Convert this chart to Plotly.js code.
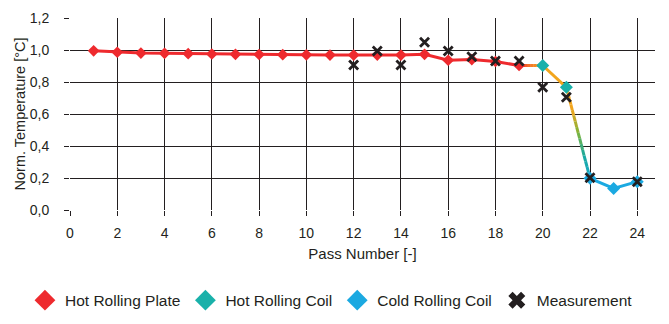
<!DOCTYPE html>
<html>
<head>
<meta charset="utf-8">
<script src="https://cdn.plot.ly/plotly-3.0.1.min.js"></script>
<style>html,body{margin:0;padding:0;background:#fff;}#chart{width:669px;height:324px;}</style>
</head>
<body>
<div id="chart"></div>
<script>
// ---- data ----
var platePasses = [1,2,3,4,5,6,7,8,9,10,11,12,13,14,15,16,17,18,19];
var plateTemp   = [0.995,0.986,0.981,0.979,0.977,0.975,0.973,0.972,0.971,0.970,0.968,0.968,0.968,0.968,0.973,0.936,0.940,0.928,0.903];
var hotCoilPasses = [20,21];
var hotCoilTemp   = [0.903,0.767];
var coldCoilPasses = [22,23,24];
var coldCoilTemp   = [0.198,0.135,0.177];
var measPasses = [12,13,14,15,16,17,18,19,20,21,22,24];
var measTemp   = [0.906,0.994,0.906,1.048,0.994,0.958,0.931,0.931,0.767,0.704,0.202,0.177];
var xTicks = [0,2,4,6,8,10,12,14,16,18,20,22,24];
var yTicks = [0,0.2,0.4,0.6,0.8,1.0,1.2];

var RED = '#ee2a2e', TEAL = '#19b1aa', BLUE = '#1ba9e1', ORANGE = '#f2a51d', INK = '#231f20';
var FONT = '"Liberation Sans", Arial, sans-serif';

function hex2rgb(h){return [parseInt(h.substr(1,2),16),parseInt(h.substr(3,2),16),parseInt(h.substr(5,2),16)];}
function mix(stops, t){
  var n = stops.length-1, k = Math.min(n-1, Math.floor(t*n)), f = t*n-k;
  var a = hex2rgb(stops[k]), b = hex2rgb(stops[k+1]);
  return 'rgb('+a.map(function(v,i){return Math.round(v+(b[i]-v)*f);}).join(',')+')';
}
var traces = [];
function lineTrace(xs, ys, color){
  traces.push({x:xs,y:ys,mode:'lines',line:{color:color,width:3},showlegend:false,hoverinfo:'skip'});
}
// colour-graded connector between two data points (drawing only)
function gradSeg(x0,y0,x1,y1,stops,n){
  for(var i=0;i<n;i++){
    var a=i/n,b=(i+1)/n;
    lineTrace([x0+(x1-x0)*a, x0+(x1-x0)*b],[y0+(y1-y0)*a, y0+(y1-y0)*b], mix(stops,(i+0.5)/n));
  }
}
lineTrace(platePasses, plateTemp, RED);
var lp = platePasses.length-1;
gradSeg(platePasses[lp], plateTemp[lp], hotCoilPasses[0], hotCoilTemp[0], [RED,'#f47a24',ORANGE], 8);
lineTrace(hotCoilPasses, hotCoilTemp, ORANGE);
gradSeg(hotCoilPasses[1], hotCoilTemp[1], coldCoilPasses[0], coldCoilTemp[0], [ORANGE,ORANGE,'#7fb43a','#1aa9a0','#16a8c8'], 16);
lineTrace(coldCoilPasses, coldCoilTemp, BLUE);

traces.push({x:platePasses,y:plateTemp,mode:'markers',marker:{symbol:'diamond',size:9,color:RED},showlegend:false});
traces.push({x:hotCoilPasses,y:hotCoilTemp,mode:'markers',marker:{symbol:'diamond',size:10,color:TEAL},showlegend:false});
traces.push({x:coldCoilPasses,y:coldCoilTemp,mode:'markers',marker:{symbol:'diamond',size:10,color:BLUE},showlegend:false});
traces.push({x:measPasses,y:measTemp,mode:'markers',marker:{symbol:'x-thin',size:9,color:INK,line:{color:INK,width:2.8}},showlegend:false});

// legend entries
function legendEntry(name, marker){
  traces.push({name:name,x:[null],y:[null],mode:'markers',marker:marker,showlegend:true});
}
legendEntry('Hot Rolling Plate',{symbol:'diamond',size:16,color:RED});
legendEntry('Hot Rolling Coil',{symbol:'diamond',size:16,color:TEAL});
legendEntry('Cold Rolling Coil',{symbol:'diamond',size:16,color:BLUE});
legendEntry('Measurement',{symbol:'x',size:15,color:INK,line:{width:0}});

var layout = {
  width:669, height:324,
  margin:{l:70,r:14,t:18,b:114,autoexpand:false},
  paper_bgcolor:'#fff', plot_bgcolor:'#fff',
  font:{family:FONT,size:14,color:INK},
  separators:',.',
  showlegend:true,
  legend:{orientation:'h',x:-0.077,xanchor:'left',y:-0.472,yanchor:'middle',
          font:{family:FONT,size:15.5,color:INK},itemsizing:'trace',traceorder:'normal'},
  xaxis:{range:[0,24.75],tickvals:xTicks,ticktext:xTicks.map(String),showgrid:true,gridcolor:INK,gridwidth:1,
         zeroline:false,showline:false,ticks:'outside',ticklen:5,tickcolor:INK,tickwidth:1,automargin:false,
         ticklabelstandoff:5,tickfont:{family:FONT,size:14,color:INK},
         title:{text:'Pass Number [-]',font:{family:FONT,size:15,color:INK},standoff:8}},
  yaxis:{range:[0,1.2],tickvals:yTicks,tickformat:'.1f',showgrid:true,gridcolor:INK,gridwidth:1,
         zeroline:false,showline:false,ticks:'outside',ticklen:5,tickcolor:INK,tickwidth:1,automargin:false,
         ticklabelstandoff:12,tickfont:{family:FONT,size:14,color:INK},
         title:{text:'Norm. Temperature [°C]',font:{family:FONT,size:14.5,color:INK},standoff:0}}
};
Plotly.newPlot('chart', traces, layout, {displayModeBar:false,staticPlot:true});
</script>
</body>
</html>
